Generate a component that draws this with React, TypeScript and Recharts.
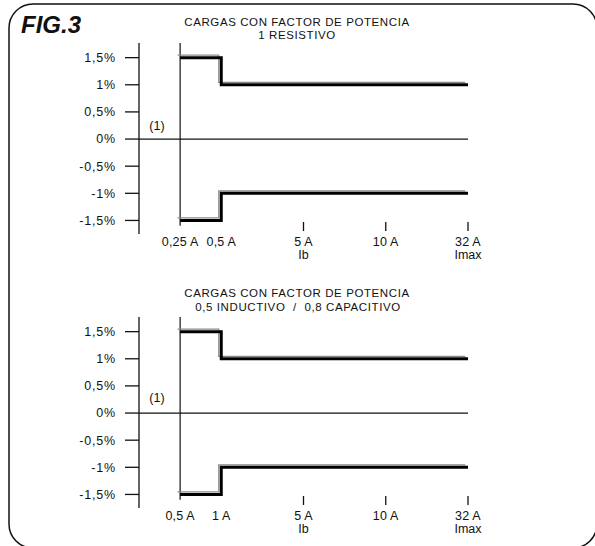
import { Line, LineChart, ReferenceLine, XAxis, YAxis } from 'recharts'

// schematic current axis: position of each tick along the x axis
const tickPos = [0, 1, 3, 5, 7]
const currentsResistive = ['0,25 A', '0,5 A', '5 A', '10 A', '32 A']
const currentsReactive = ['0,5 A', '1 A', '5 A', '10 A', '32 A']
const subLabels = ['', '', 'Ib', '', 'Imax']
const markedTicks = [false, false, true, true, true]

// error limits (%)
const upperLimit = [1.5, 1, 1, 1, 1]
const lowerLimit = [-1.5, -1, -1, -1, -1]

const yTicks = [-1.5, -1, -0.5, 0, 0.5, 1, 1.5]
const yTickLabels = ['-1,5%', '-1%', '-0,5%', '0%', '0,5%', '1%', '1,5%']

const titleTop = ['CARGAS CON FACTOR DE POTENCIA', '1 RESISTIVO']
const titleBottom = ['CARGAS CON FACTOR DE POTENCIA', '0,5 INDUCTIVO  /  0,8 CAPACITIVO']

const rows = tickPos.map((pos, i) => ({
  pos,
  upper: upperLimit[i],
  lower: lowerLimit[i],
}))

const INK = '#111'

function CurrentTick(props: any) {
  const { x, y, payload, labels } = props
  const i = tickPos.indexOf(payload.value)
  if (i < 0) return null
  return (
    <g>
      {markedTicks[i] && (
        <line x1={x} x2={x} y1={y - 12} y2={y - 3} stroke={INK} strokeWidth={1.3} />
      )}
      <text x={x} y={y + 12} textAnchor="middle" fontSize={12.5} letterSpacing={0.2} fill={INK}>
        {labels[i]}
      </text>
      {subLabels[i] && (
        <text x={x} y={y + 25} textAnchor="middle" fontSize={12.5} fill={INK}>
          {subLabels[i]}
        </text>
      )}
    </g>
  )
}

function LimitChart({ labels }: { labels: string[] }) {
  return (
    <LineChart
      width={595}
      height={275}
      data={rows}
      margin={{ top: 43, right: 127, left: 0, bottom: 0 }}
    >
      <XAxis
        dataKey="pos"
        type="number"
        domain={[-1, 7]}
        ticks={tickPos}
        height={41}
        axisLine={false}
        tickLine={false}
        tickSize={0}
        tickMargin={0}
        interval={0}
        allowDataOverflow
        tick={<CurrentTick labels={labels} />}
      />
      <YAxis
        type="number"
        domain={[-1.75, 1.77]}
        ticks={yTicks}
        width={139}
        allowDataOverflow
        interval={0}
        tickSize={14}
        tickMargin={9}
        axisLine={{ stroke: INK, strokeWidth: 1.3 }}
        tickLine={{ stroke: INK, strokeWidth: 1.3 }}
        tick={{ fill: INK, fontSize: 12.5, letterSpacing: 0.8 }}
        tickFormatter={(v: number) => yTickLabels[yTicks.indexOf(v)] ?? ''}
      />
      <ReferenceLine y={0} stroke={INK} strokeWidth={1.2} />
      <ReferenceLine
        segment={[
          { x: 0, y: 1.77 },
          { x: 0, y: -1.6 },
        ]}
        stroke={INK}
        strokeWidth={1.2}
        ifOverflow="visible"
      />
      <Line
        key="ghost-up"
        className="ghost"
        dataKey="upper"
        type="stepAfter"
        stroke="#8a8a8a"
        strokeWidth={1.2}
        dot={false}
        isAnimationActive={false}
      />
      <Line
        key="ghost-low"
        className="ghost"
        dataKey="lower"
        type="stepAfter"
        stroke="#8a8a8a"
        strokeWidth={1.2}
        dot={false}
        isAnimationActive={false}
      />
      <Line
        key="up"
        dataKey="upper"
        type="stepAfter"
        stroke="#000"
        strokeWidth={3}
        dot={false}
        isAnimationActive={false}
      />
      <Line
        key="low"
        dataKey="lower"
        type="stepAfter"
        stroke="#000"
        strokeWidth={3}
        dot={false}
        isAnimationActive={false}
      />
    </LineChart>
  )
}

export default function App() {
  return (
    <div
      style={{
        position: 'absolute',
        left: 0,
        top: 0,
        width: 595,
        height: 546,
        overflow: 'hidden',
        background: '#fff',
        fontFamily: '"Liberation Sans", Arial, sans-serif',
      }}
    >
      <style>{'.ghost { transform: translate(-2.5px, -2.5px); }'}</style>
      <svg width={595} height={546} style={{ position: 'absolute', left: 0, top: 0 }}>
        <rect x={9} y={4} width={588} height={544} rx={24} fill="none" stroke={INK} strokeWidth={1.5} />
        <text x={21} y={33} fontSize={24} fontWeight="bold" fontStyle="italic" fill={INK}>
          FIG.3
        </text>
        <text x={297} y={26} textAnchor="middle" fontSize={11.5} letterSpacing={0.6} fill={INK}>
          {titleTop[0]}
        </text>
        <text x={297} y={39} textAnchor="middle" fontSize={11.5} letterSpacing={0.6} fill={INK}>
          {titleTop[1]}
        </text>
        <text x={297} y={297} textAnchor="middle" fontSize={11.5} letterSpacing={0.6} fill={INK}>
          {titleBottom[0]}
        </text>
        <text
          x={298}
          y={310.5}
          textAnchor="middle"
          fontSize={11.5}
          letterSpacing={0.6}
          fill={INK}
          style={{ whiteSpace: 'pre' }}
        >
          {titleBottom[1]}
        </text>
        <text x={157} y={130} textAnchor="middle" fontSize={12.5} fill={INK}>
          (1)
        </text>
        <text x={157} y={402} textAnchor="middle" fontSize={12.5} fill={INK}>
          (1)
        </text>
      </svg>
      <div style={{ position: 'absolute', left: 0, top: 0 }}>
        <LimitChart labels={currentsResistive} />
      </div>
      <div style={{ position: 'absolute', left: 0, top: 274 }}>
        <LimitChart labels={currentsReactive} />
      </div>
    </div>
  )
}
